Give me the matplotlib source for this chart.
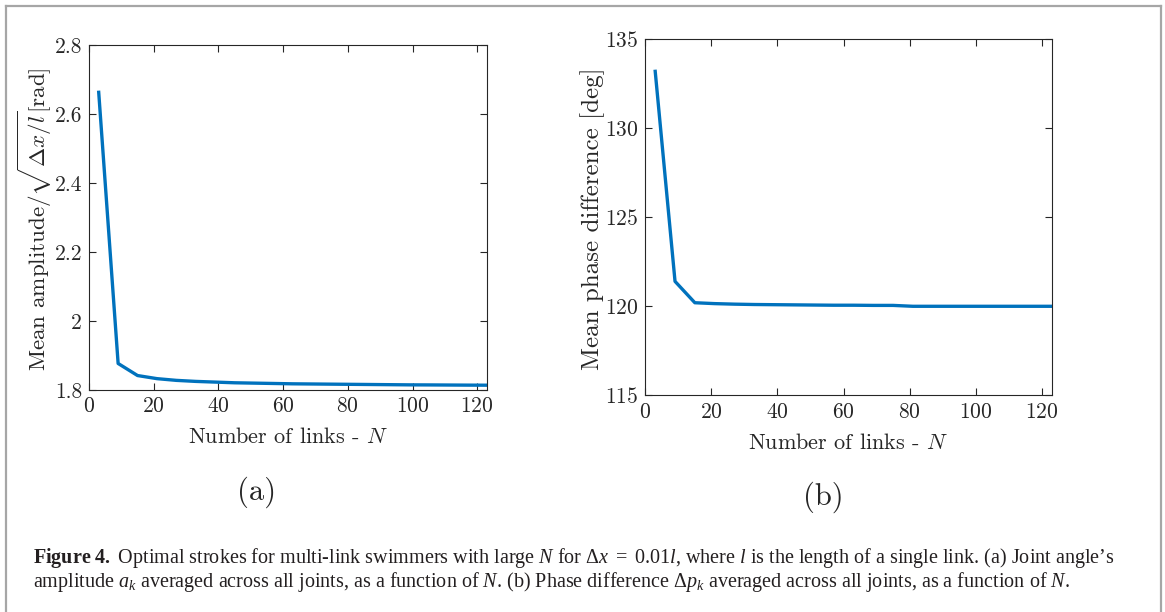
import matplotlib
matplotlib.use('Agg')
import matplotlib.pyplot as plt
from matplotlib.lines import Line2D

# data
N_links = [3, 9, 15, 21, 27, 33, 39, 45, 51, 57, 63, 69, 75, 81, 87, 93, 99, 105, 111, 117, 123]
amplitude = [2.663, 1.877, 1.842, 1.833, 1.828, 1.825, 1.823, 1.821, 1.820, 1.819, 1.818,
             1.8175, 1.817, 1.8165, 1.816, 1.8155, 1.815, 1.8148, 1.8145, 1.8142, 1.814]
phase = [133.2, 121.4, 120.2, 120.15, 120.12, 120.1, 120.09, 120.08, 120.07, 120.06, 120.06,
         120.05, 120.05, 120.0, 120.0, 120.0, 120.0, 120.0, 120.0, 120.0, 120.0]

amp_ticks = [1.8, 2.0, 2.2, 2.4, 2.6, 2.8]
amp_ticklabels = ['1.8', '2', '2.2', '2.4', '2.6', '2.8']
phase_ticks = [115, 120, 125, 130, 135]
x_ticks = [0, 20, 40, 60, 80, 100, 120]

caption_1 = (r"$\mathbf{Figure\ 4.}$ Optimal strokes for multi-link swimmers with large $N$ for "
             r"$\Delta x\ =\ 0.01l$, where $l$ is the length of a single link. (a) Joint angle’s")
caption_2 = (r"amplitude $a_k$ averaged across all joints, as a function of $N$. (b) Phase difference "
             r"$\Delta p_k$ averaged across all joints, as a function of $N$.")

plt.rcParams['font.family'] = 'serif'
plt.rcParams['font.serif'] = ['cmr10']
plt.rcParams['mathtext.fontset'] = 'custom'
plt.rcParams['mathtext.rm'] = 'Liberation Serif'
plt.rcParams['mathtext.it'] = 'Liberation Serif:italic'
plt.rcParams['mathtext.bf'] = 'Liberation Serif:bold'
plt.rcParams['axes.formatter.use_mathtext'] = True

line_col = '#0072BD'
dark = '#262626'

fig = plt.figure(figsize=(11.65, 6.12), dpi=100)


def style_axes(ax, ylab, ylab_size, ylab_x, xlab_y):
	ax.tick_params(direction='in', top=True, right=True, length=5, width=0.8,
	               labelsize=15.5, colors=dark, pad=5)
	for s in ax.spines.values():
		s.set_color(dark)
		s.set_linewidth(0.8)
	ax.set_xlim(0, 123)
	ax.set_xticks(x_ticks)
	ax.set_xlabel(r'Number of links - $N$', fontsize=16, color=dark, math_fontfamily='cm', va='center')
	ax.xaxis.set_label_coords(0.5, xlab_y)
	ax.set_ylabel(ylab, fontsize=ylab_size, color=dark, math_fontfamily='cm', va='center')
	ax.yaxis.set_label_coords(ylab_x, 0.495)


ax1 = fig.add_axes([0.0764, 0.3627, 0.3416, 0.5637])
ax1.plot(N_links, amplitude, color=line_col, lw=2.4)
style_axes(ax1, r'Mean amplitude$/\sqrt{\Delta x/l}$[rad]', 16.6, -0.137, -0.136)
ax1.set_ylim(1.8, 2.8)
ax1.set_yticks(amp_ticks)
ax1.set_yticklabels(amp_ticklabels)

ax2 = fig.add_axes([0.5539, 0.3541, 0.3488, 0.5817])
ax2.plot(N_links, phase, color=line_col, lw=2.4)
style_axes(ax2, 'Mean phase difference [deg]', 18, -0.129, -0.134)
ax2.set_ylim(115, 135)
ax2.set_yticks(phase_ticks)

fig.text(257 / 1165, 1 - 492 / 612, '(a)', fontsize=22, ha='center', va='center', color=dark)
fig.text(823 / 1165, 1 - 497 / 612, '(b)', fontsize=22, ha='center', va='center', color=dark)

fig.text(33 / 1165, 1 - 558 / 612, caption_1, fontsize=14.5, family='Liberation Serif',
         math_fontfamily='custom', ha='left', va='center', color='#231f20')
fig.text(33 / 1165, 1 - 582 / 612, caption_2, fontsize=14.5, family='Liberation Serif',
         math_fontfamily='custom', ha='left', va='center', color='#231f20')

# grey frame round the figure
frame = dict(color='#a6a6a6', lw=1.6, transform=fig.transFigure)
fig.add_artist(Line2D([6 / 1165, 6 / 1165], [0, 1 - 6 / 612], **frame))
fig.add_artist(Line2D([6 / 1165, 1161 / 1165], [1 - 6 / 612, 1 - 6 / 612], **frame))
fig.add_artist(Line2D([1161 / 1165, 1161 / 1165], [0, 1 - 6 / 612], **frame))

plt.savefig('out.png', dpi=100)
